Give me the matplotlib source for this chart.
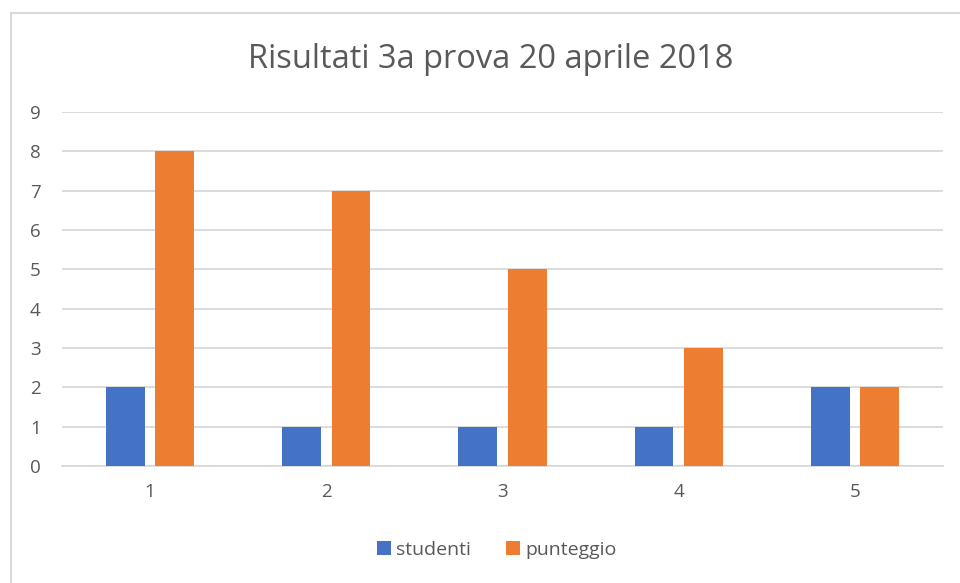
import matplotlib
matplotlib.use("Agg")
import matplotlib.pyplot as plt
import numpy as np
from matplotlib.lines import Line2D

categories = ["1", "2", "3", "4", "5"]
studenti = [2, 1, 1, 1, 2]
punteggio = [8, 7, 5, 3, 2]
y_ticks = list(range(0, 10))

BLUE = "#4472c4"
ORANGE = "#ed7d31"
TEXT = "#595959"
GRID = "#d9d9d9"

plt.rcParams["font.family"] = ["Open Sans", "DejaVu Sans"]

fig = plt.figure(figsize=(9.6, 5.83), dpi=100, facecolor="white")
ax = fig.add_axes([62 / 960, 1 - 466 / 583, (943 - 62) / 960, (466 - 112) / 583])

x = np.arange(len(categories))
width = 0.22
gap = 0.06
ax.bar(x - (width + gap) / 2, studenti, width, color=BLUE, label="studenti", zorder=3)
ax.bar(x + (width + gap) / 2, punteggio, width, color=ORANGE, label="punteggio", zorder=3)

ax.set_xlim(-0.5, len(categories) - 0.5)
ax.set_ylim(0, 9)
ax.set_yticks(y_ticks)
ax.set_xticks(x)
ax.set_xticklabels(categories)
ax.yaxis.grid(True, color=GRID, linewidth=1.3, zorder=0)
ax.set_axisbelow(True)
for side in ["top", "right", "left"]:
    ax.spines[side].set_visible(False)
ax.spines["bottom"].set_color(GRID)
ax.spines["bottom"].set_linewidth(1.3)
ax.tick_params(axis="both", length=0, colors=TEXT, labelsize=13.5)
ax.tick_params(axis="y", pad=23)
ax.tick_params(axis="x", pad=12)
for lbl in ax.get_yticklabels():
    lbl.set_horizontalalignment("left")

fig.text(491 / 960, 1 - 60 / 583, "Risultati 3a prova 20 aprile 2018",
         ha="center", va="center", fontsize=23.5, color=TEXT)

fig.legend(loc="center", bbox_to_anchor=(497 / 960, 1 - 550 / 583), ncol=2,
           frameon=False, fontsize=14, labelcolor=TEXT, handlelength=0.7,
           handleheight=0.7, handletextpad=0.3, columnspacing=1.8)

# chart frame (cut off at the right and bottom edges)
fig.add_artist(Line2D([11 / 960, 11 / 960], [0, 1 - 13 / 583], transform=fig.transFigure,
                      color=GRID, linewidth=1.5))
fig.add_artist(Line2D([11 / 960, 1], [1 - 13 / 583, 1 - 13 / 583], transform=fig.transFigure,
                      color=GRID, linewidth=1.5))

fig.savefig("out.png", dpi=100)
